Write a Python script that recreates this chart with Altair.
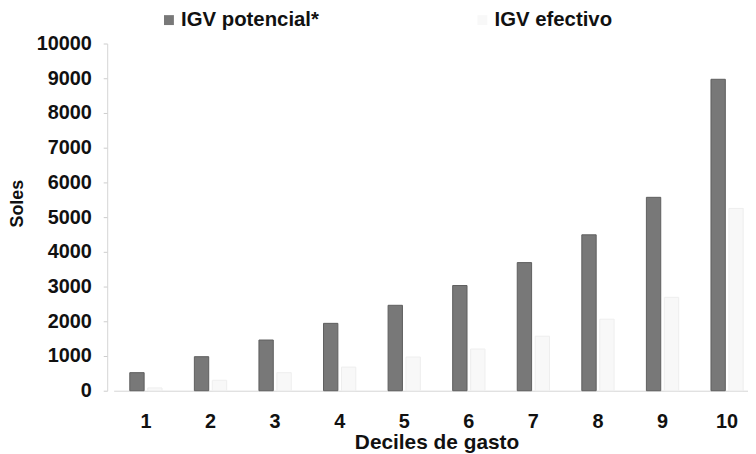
import altair as alt
import pandas as pd

deciles = ["1", "2", "3", "4", "5", "6", "7", "8", "9", "10"]
series = ["IGV potencial*", "IGV efectivo"]
potencial = [520, 980, 1460, 1940, 2460, 3030, 3690, 4490, 5570, 8970]
efectivo = [80, 300, 520, 680, 970, 1200, 1570, 2060, 2690, 5250]
y_ticks = [0, 1000, 2000, 3000, 4000, 5000, 6000, 7000, 8000, 9000, 10000]

rows = []
for d, p, e in zip(deciles, potencial, efectivo):
    rows.append({"decil": d, "serie": series[0], "valor": p})
    rows.append({"decil": d, "serie": series[1], "valor": e})
df = pd.DataFrame(rows)

font = "Liberation Sans"

chart = alt.Chart(df).mark_bar(strokeWidth=1).encode(
    x=alt.X(
        "decil:N", sort=deciles,
        scale=alt.Scale(range=[6.5, 657.5], paddingInner=0.5, paddingOuter=0.25),
        axis=alt.Axis(title="Deciles de gasto", labelAngle=0, ticks=False, labelPadding=21,
                      labelFontSize=20, titleFontSize=21, titleY=58, titleBaseline="alphabetic",
                      domainColor="#d5d5d5"),
    ),
    xOffset=alt.XOffset("serie:N", sort=series, scale=alt.Scale(paddingInner=0.2, paddingOuter=0)),
    y=alt.Y(
        "valor:Q", scale=alt.Scale(domain=[0, 10000]),
        axis=alt.Axis(title="Soles", values=y_ticks, format="d", grid=False, tickSize=4,
                      tickColor="#cccccc", domainColor="#d5d5d5", labelPadding=12,
                      labelFontSize=20, titleFontSize=18,
                      titleX=-90, titleY=161, titleAngle=270, titleAlign="center",
                      titleBaseline="middle"),
    ),
    color=alt.Color(
        "serie:N", sort=series,
        scale=alt.Scale(domain=series, range=["#787878", "#f8f8f8"]),
        legend=alt.Legend(title=None, orient="none", legendX=52, legendY=-34, direction="horizontal",
                          columnPadding=154, labelFontSize=20.5, labelFont=font, labelFontWeight="bold",
                          labelColor="#111111", symbolType="square", symbolSize=100, labelOffset=2,
                          padding=0, labelLimit=400, symbolStrokeWidth=0),
    ),
    stroke=alt.Stroke("serie:N", sort=series,
                      scale=alt.Scale(domain=series, range=["#5e5e5e", "#eeeeee"]), legend=None),
).properties(
    width=646, height=350,
    autosize=alt.AutoSizeParams(type="none"),
    padding={"left": 100, "top": 34, "right": 0, "bottom": 64},
).configure_axis(
    labelFont=font, titleFont=font, labelFontWeight="bold", titleFontWeight="bold",
    labelColor="#111111", titleColor="#111111",
).configure_view(stroke=None)

chart.save("out.html", embed_options={"renderer": "svg", "actions": False})
